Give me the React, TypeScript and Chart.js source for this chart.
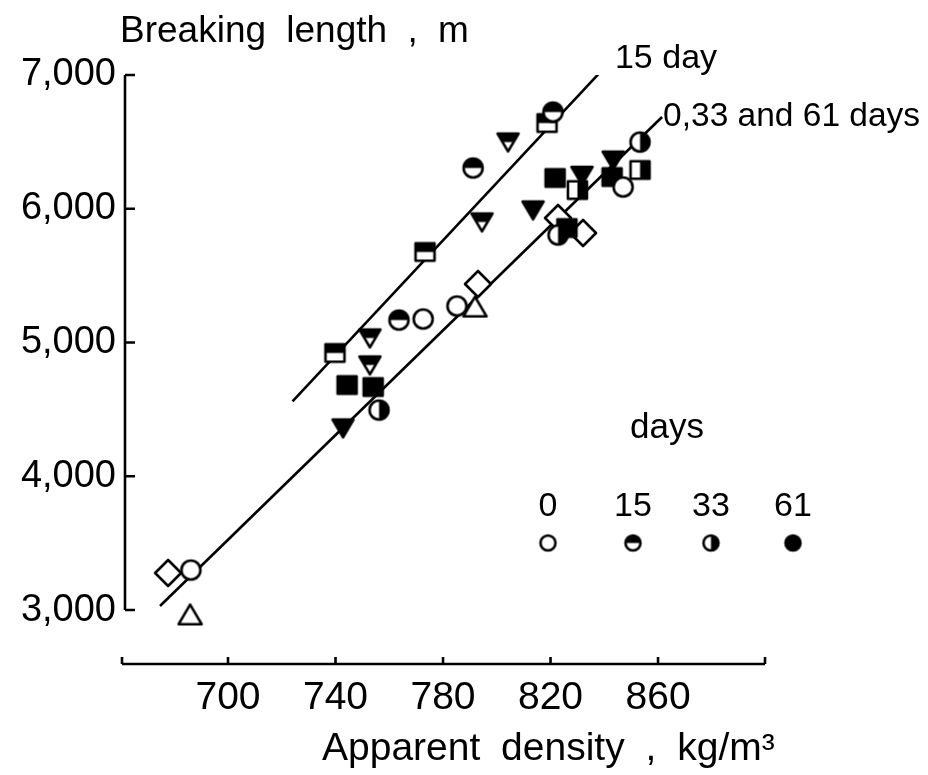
import React, { useEffect, useRef } from 'react';
import { Chart, registerables } from 'chart.js';

Chart.register(...registerables);

// axis ticks
const xTicks = [700, 740, 780, 820, 860];
const yTicks = [3000, 4000, 5000, 6000, 7000];

// observations: [apparent density kg/m3, breaking length m]
const circle0 = [[686.2, 3299], [772.6, 5176], [785.2, 5273], [847, 6163]];
const circle15 = [[763.6, 5168], [791.2, 6305], [820.9, 6723]];
const circle33 = [[756.2, 4495], [822.8, 5804], [853.3, 6499]];
const square15 = [[739.8, 4922], [773.3, 5677], [818.7, 6641]];
const square33 = [[830, 6140], [853.3, 6290]];
const square61 = [[744.3, 4682], [754, 4667], [821.7, 6230], [826.1, 5856], [842.9, 6237]];
const triDown15 = [[752.8, 5034], [752.8, 4832], [794.5, 5901], [804.2, 6499]];
const triDown61 = [[742.8, 4361], [813.5, 5991], [831.7, 6250], [843.3, 6364]];
const triUp0 = [[685.9, 2963], [791.9, 5265]];
const diamond0 = [[677.7, 3277], [793, 5437], [822.8, 5931], [832.1, 5819]];

// fitted lines
const line15 = [[724, 4560], [841, 7075]];
const lineOther = [[674.7, 3030], [861.5, 6686]];

const legendDays = ['0', '15', '33', '61'];
const legendFills = [0, 15, 33, 61];

const FONT = '"Liberation Sans", Arial, sans-serif';

function makeMarker(shape: string, day: number, size: number): HTMLCanvasElement {
  const pad = 3;
  const w = Math.ceil(size + pad * 2);
  const c = document.createElement('canvas');
  c.width = w;
  c.height = w;
  const ctx = c.getContext('2d')!;
  const cx = w / 2;
  const cy = w / 2;
  const r = size / 2;
  const p = new Path2D();
  if (shape === 'circle') {
    p.arc(cx, cy, r, 0, Math.PI * 2);
  } else if (shape === 'square') {
    p.rect(cx - r, cy - r * 0.92, size, size * 0.92);
  } else if (shape === 'triDown') {
    p.moveTo(cx - r, cy - r * 0.8);
    p.lineTo(cx + r, cy - r * 0.8);
    p.lineTo(cx, cy + r * 0.9);
    p.closePath();
  } else if (shape === 'triUp') {
    p.moveTo(cx - r, cy + r * 0.8);
    p.lineTo(cx + r, cy + r * 0.8);
    p.lineTo(cx, cy - r * 0.9);
    p.closePath();
  } else {
    p.moveTo(cx, cy - r);
    p.lineTo(cx + r, cy);
    p.lineTo(cx, cy + r);
    p.lineTo(cx - r, cy);
    p.closePath();
  }
  ctx.fillStyle = '#fff';
  ctx.fill(p);
  ctx.save();
  ctx.clip(p);
  ctx.fillStyle = '#000';
  if (day === 61) ctx.fillRect(0, 0, w, w);
  else if (day === 15) ctx.fillRect(0, 0, w, cy);
  else if (day === 33) ctx.fillRect(cx, 0, w, w);
  ctx.restore();
  ctx.lineWidth = 2.6;
  ctx.lineJoin = 'round';
  ctx.strokeStyle = '#000';
  ctx.stroke(p);
  return c;
}

const toXY = (arr: number[][]) => arr.map(([x, y]) => ({ x, y }));

export default function App() {
  const ref = useRef<HTMLCanvasElement>(null);

  useEffect(() => {
    if (!ref.current) return;
    const sizes: Record<string, number> = { circle: 19, square: 19, triDown: 21, triUp: 23, diamond: 26 };
    const pts = (data: number[][], shape: string, day: number) => ({
      type: 'scatter' as const,
      data: toXY(data),
      pointStyle: makeMarker(shape, day, sizes[shape]),
      pointRadius: 5,
      order: 0,
    });
    const ln = (data: number[][]) => ({
      type: 'scatter' as const,
      data: toXY(data),
      showLine: true,
      borderColor: '#000',
      borderWidth: 2.6,
      pointRadius: 0,
      order: 10,
    });
    const legendMarkers = legendFills.map((d) => makeMarker('circle', d, 15));

    const overlay = {
      id: 'overlay',
      afterDraw(chart: any) {
        const { ctx, chartArea: a } = chart;
        const x = chart.scales.x;
        const y = chart.scales.y;
        ctx.save();
        ctx.strokeStyle = '#000';
        ctx.lineWidth = 2.6;
        // y axis
        const ax = a.left + 3;
        ctx.beginPath();
        ctx.moveTo(ax, y.getPixelForValue(yTicks[yTicks.length - 1]));
        ctx.lineTo(ax, y.getPixelForValue(yTicks[0]));
        yTicks.forEach((v) => {
          const py = y.getPixelForValue(v);
          ctx.moveTo(ax, py);
          ctx.lineTo(ax + 10, py);
        });
        ctx.stroke();
        // x axis
        const ay = a.bottom - 1;
        ctx.beginPath();
        ctx.moveTo(a.left, ay);
        ctx.lineTo(a.right, ay);
        [a.left, ...xTicks.map((v) => x.getPixelForValue(v)), a.right].forEach((px) => {
          ctx.moveTo(px, ay);
          ctx.lineTo(px, ay - 7);
        });
        ctx.stroke();

        ctx.fillStyle = '#000';
        ctx.textAlign = 'left';
        ctx.textBaseline = 'alphabetic';
        (ctx as any).wordSpacing = '10px';
        ctx.font = `37px ${FONT}`;
        ctx.fillText('Breaking length , m', 120, 42);
        ctx.font = `39px ${FONT}`;
        ctx.fillText('Apparent density , kg/m\u00b3', 322, 760);
        (ctx as any).wordSpacing = '0px';

        // line labels
        const e15x = x.getPixelForValue(line15[1][0]);
        const e15y = y.getPixelForValue(line15[1][1]);
        ctx.font = `34px ${FONT}`;
        ctx.fillText('15 day', e15x + 8, e15y + 3);
        const eOx = x.getPixelForValue(lineOther[1][0]);
        const eOy = y.getPixelForValue(lineOther[1][1]);
        ctx.font = `33.5px ${FONT}`;
        ctx.fillText('0,33 and 61 days', eOx + 1, eOy + 9);

        // legend
        ctx.font = `35px ${FONT}`;
        ctx.fillText('days', 630, 438);
        const lx = [548, 633, 711, 793];
        ctx.textAlign = 'center';
        ctx.font = `34px ${FONT}`;
        legendDays.forEach((t, i) => {
          ctx.fillText(t, lx[i], 516);
          const m = legendMarkers[i];
          ctx.drawImage(m, lx[i] - m.width / 2, 543 - m.height / 2);
        });
        ctx.restore();
      },
    };

    const chart = new Chart(ref.current, {
      type: 'scatter',
      data: {
        datasets: [
          ln(line15),
          ln(lineOther),
          pts(circle0, 'circle', 0),
          pts(circle15, 'circle', 15),
          pts(circle33, 'circle', 33),
          pts(square15, 'square', 15),
          pts(square33, 'square', 33),
          pts(square61, 'square', 61),
          pts(triDown15, 'triDown', 15),
          pts(triDown61, 'triDown', 61),
          pts(triUp0, 'triUp', 0),
          pts(diamond0, 'diamond', 0),
        ] as any,
      },
      options: {
        animation: false,
        responsive: false,
        devicePixelRatio: 1,
        layout: { padding: { left: 0, right: 163, top: 75, bottom: 0 } },
        plugins: { legend: { display: false }, tooltip: { enabled: false } },
        scales: {
          x: {
            type: 'linear',
            min: 660.56,
            max: 899.8,
            grid: { display: false, drawTicks: false },
            border: { display: false },
            afterFit: (s: any) => {
              s.height = 110;
            },
            afterBuildTicks: (s: any) => {
              s.ticks = xTicks.map((v) => ({ value: v }));
            },
            ticks: {
              color: '#000',
              padding: 10,
              maxRotation: 0,
              font: { family: FONT, size: 39 },
              callback: (v: any) => String(v),
            },
          },
          y: {
            type: 'linear',
            min: 2589,
            max: 7000,
            grid: { display: false, drawTicks: false },
            border: { display: false },
            afterFit: (s: any) => {
              s.width = 122;
            },
            afterBuildTicks: (s: any) => {
              s.ticks = yTicks.map((v) => ({ value: v }));
            },
            ticks: {
              color: '#000',
              padding: 6,
              font: { family: FONT, size: 38 },
              callback: (v: any) => Number(v).toLocaleString('en-US'),
            },
          },
        },
      },
      plugins: [overlay],
    });
    return () => chart.destroy();
  }, []);

  return (
    <div style={{ position: 'fixed', left: 0, top: 0, width: 928, height: 775, background: '#fff' }}>
      <canvas ref={ref} width={928} height={775} style={{ width: 928, height: 775 }} />
    </div>
  );
}
